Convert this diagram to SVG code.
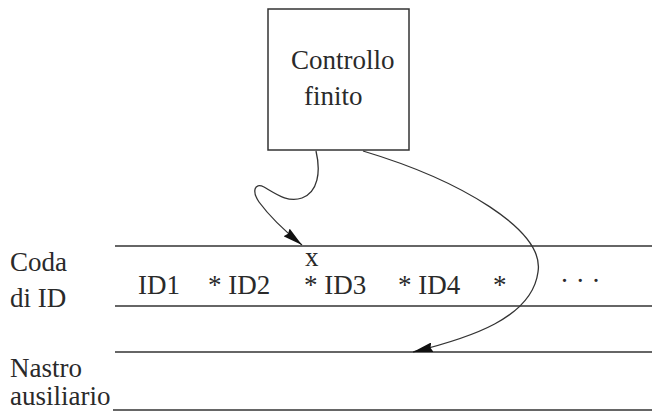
<svg xmlns="http://www.w3.org/2000/svg" width="652" height="411" viewBox="0 0 652 411">
<style>
  .t { font-family: "Liberation Serif", "Times New Roman", serif; font-size: 27px; fill: #2a2a2a; }
  .tape { stroke: #333; stroke-width: 1.4; fill: none; }
  .conn { stroke: #333; stroke-width: 1.3; fill: none; }
</style>
<defs>
  <marker id="ah" viewBox="0 0 20 10" refX="20" refY="5" markerWidth="20" markerHeight="10" markerUnits="userSpaceOnUse" orient="auto">
    <path d="M0,0 L20,5 L0,10 L2,5 Z" fill="#111"/>
  </marker>
</defs>
<rect width="652" height="411" fill="#ffffff"/>
<g id="tapes">
  <line class="tape" x1="115" y1="246" x2="652" y2="246"/>
  <line class="tape" x1="115" y1="306" x2="652" y2="306"/>
  <line class="tape" x1="115" y1="352" x2="652" y2="352"/>
  <line class="tape" x1="113" y1="410" x2="652" y2="410"/>
</g>
<g id="controllo">
  <rect x="268" y="9" width="141" height="141" fill="none" stroke="#333" stroke-width="1.5"/>
  <text class="t" x="291" y="69">Controllo</text>
  <text class="t" x="304" y="105">finito</text>
</g>
<g id="labels">
  <text class="t" x="10" y="271">Coda</text>
  <text class="t" x="10" y="307">di ID</text>
  <text class="t" x="10" y="377">Nastro</text>
  <text class="t" x="10" y="405">ausiliario</text>
</g>
<g id="coda">
  <text class="t" x="138" y="294">ID1</text>
  <text class="t" x="208" y="294">* ID2</text>
  <text class="t" x="305" y="266">x</text>
  <text class="t" x="304" y="294">* ID3</text>
  <text class="t" x="398" y="294">* ID4</text>
  <text class="t" x="493" y="294">*</text>
  <text class="t" x="560" y="290">· · ·</text>
</g>
<g id="connectors">
  <path class="conn" marker-end="url(#ah)" d="M316,151 C321,172 318,192 302,198 C288,203 276,194 264,187 C254,182 252,192 259,202 C270,217 286,232 302,245"/>
  <path class="conn" marker-end="url(#ah)" d="M363,151 C460,180 545,230 538,272 C532,318 470,338 413,352"/>
</g>
</svg>
